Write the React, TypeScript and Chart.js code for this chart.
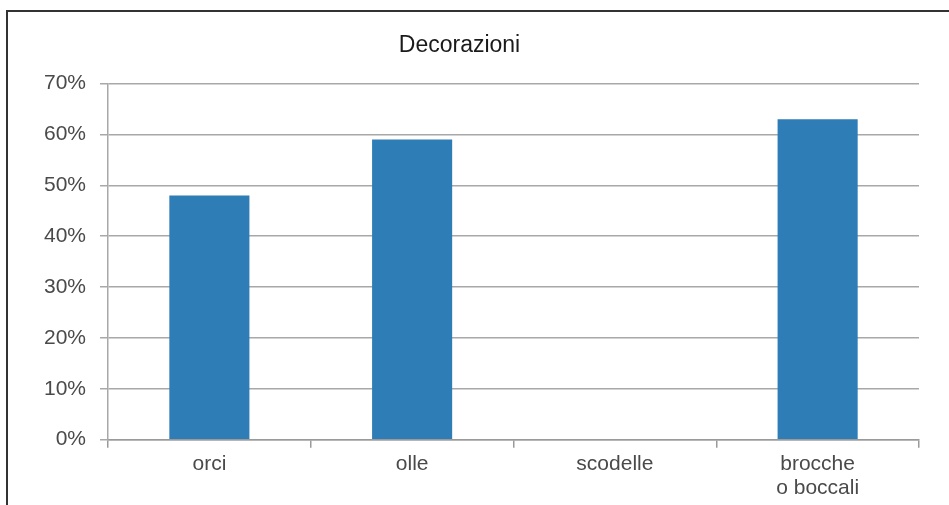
import React, { useEffect, useRef } from "react";
import { Chart, registerables } from "chart.js";

Chart.register(...registerables);

const categories: (string | string[])[] = ["orci", "olle", "scodelle", ["brocche", "o boccali"]];
const values: number[] = [48, 59, 0, 63];
const yTicks: number[] = [0, 10, 20, 30, 40, 50, 60, 70];
const chartTitle = "Decorazioni";

const FONT = "'Liberation Sans', Arial, Helvetica, sans-serif";

const framePlugin = {
  id: "frame",
  beforeDraw(chart: any) {
    const { ctx, width, height } = chart;
    ctx.save();
    ctx.fillStyle = "#ffffff";
    ctx.fillRect(0, 0, width, height);
    ctx.strokeStyle = "#333333";
    ctx.lineWidth = 2;
    ctx.beginPath();
    ctx.moveTo(7, height);
    ctx.lineTo(7, 11);
    ctx.lineTo(width, 11);
    ctx.stroke();
    ctx.restore();
  },
};

export default function App() {
  const ref = useRef<HTMLCanvasElement | null>(null);
  useEffect(() => {
    document.body.style.margin = "0";
    if (!ref.current) return;
    const chart = new Chart(ref.current, {
      type: "bar",
      data: {
        labels: categories,
        datasets: [
          {
            data: values,
            backgroundColor: "#2e7db6",
            borderWidth: 0,
            categoryPercentage: 1,
            barPercentage: 0.395,
          },
        ],
      },
      options: {
        animation: false,
        responsive: false,
        layout: { padding: { left: 0, right: 30, top: 0, bottom: 1 } },
        plugins: {
          legend: { display: false },
          tooltip: { enabled: false },
          title: {
            display: true,
            text: chartTitle,
            color: "#1a1a1a",
            font: { family: FONT, size: 23, weight: "normal" },
            padding: { top: 32, bottom: 24 },
          },
        },
        scales: {
          x: {
            offset: true,
            grid: {
              offset: true,
              drawOnChartArea: false,
              drawTicks: true,
              tickLength: 8,
              color: "#9a9a9a",
              lineWidth: 1.5,
            },
            border: { display: true, color: "#9a9a9a", width: 1.5 },
            ticks: {
              color: "#4a4a4a",
              font: { family: FONT, size: 21, lineHeight: 1.15 },
              padding: 4,
              maxRotation: 0,
              autoSkip: false,
            },
          },
          y: {
            min: 0,
            max: 70,
            afterFit(scale: any) {
              scale.width = 108;
            },
            afterBuildTicks(scale: any) {
              scale.ticks = yTicks.map((v) => ({ value: v }));
            },
            grid: {
              color: "#a8a8a8",
              lineWidth: 1.5,
              tickLength: 8,
              drawTicks: true,
            },
            border: { display: true, color: "#a8a8a8", width: 1.5 },
            ticks: {
              color: "#4a4a4a",
              font: { family: FONT, size: 21 },
              padding: 14,
              callback: (v: any) => `${v}%`,
            },
          },
        },
      },
      plugins: [framePlugin],
    });
    return () => chart.destroy();
  }, []);
  return (
    <div style={{ width: 949, height: 505 }}>
      <canvas ref={ref} width={949} height={505} style={{ display: "block" }} />
    </div>
  );
}
